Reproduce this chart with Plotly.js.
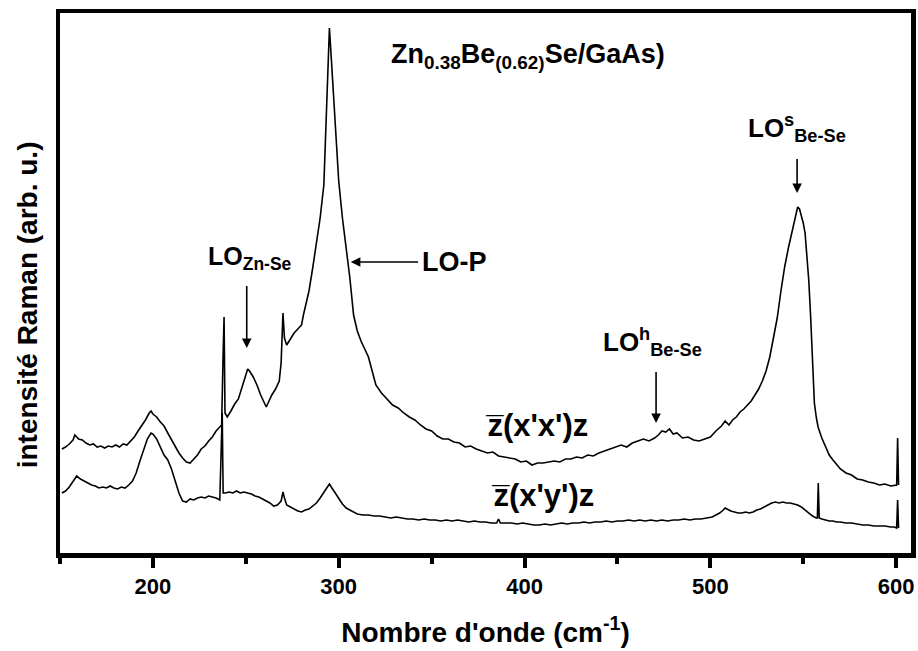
<!DOCTYPE html>
<html>
<head>
<meta charset="utf-8">
<script src="https://cdn.plot.ly/plotly-3.0.1.min.js"></script>
<style>html,body{margin:0;padding:0;background:#fff;}#chart{width:918px;height:651px;}</style>
</head>
<body>
<div id="chart"></div>
<script>
// Polarisation z(x'x')z spectrum
const wavenumber_xx = [151,153,155,157,158,160,162,164,166,168,170,172,174,176,178,180,182,184,186,188,190,192,194,196,198,199,200,202,204,206,208,210,212,214,216,218,220,222,224,226,228,230,232,234,236,237,237.8,238.3,238.8,240,242,244,246,248,250,251,252,254,256,258,260,261,262,264,266,268,269,270,270.8,272,274,276,278,280,281,282,284,286,288,290,292,293,294,295,296,297,298,300,302,304,306,308,310,312,314,316,318,320,323,326,329,332,335,338,341,344,347,350,353,356,359,362,365,368,371,374,377,380,383,386,389,392,395,398,401,404,407,410,413,416,419,422,425,428,431,434,437,440,443,446,449,452,455,458,461,464,467,470,472,474,476,478,480,482,485,488,491,494,497,500,503,506,508,510,512,514,516,518,520,522,524,526,528,530,532,534,536,538,540,542,544,546,547,548,549,550,551,552,553,554,555,556,557,558,560,562,564,566,568,570,573,576,579,582,585,588,591,594,597,599,600.3,600.8,601.3];
const intensity_xx = [104,106,109,113,118,114,113,110,108,109,106,107,105,107,106,108,106,109,108,112,116,122,127,133,140,142,139,136,131,127,120,113,106,100,95,91,90,94,98,104,107,112,116,122,126,128,200,236,140,136,142,149,154,165,178,184,182,176,168,158,150,146,150,158,164,172,190,240,215,208,214,220,224,228,238,246,262,285,308,335,368,420,475,525,495,465,435,372,335,305,275,238,222,212,204,196,182,168,160,154,148,145,140,136,133,128,124,122,117,114,114,111,110,106,107,104,102,100,101,97,96,95,94,91,92,88,90,90,91,92,91,94,94,96,95,98,97,100,102,104,106,108,106,110,112,114,112,115,118,122,121,124,119,120,115,116,113,112,114,116,122,127,132,128,133,136,141,144,148,152,158,164,172,182,196,215,235,262,286,305,322,338,346,344,338,330,320,300,272,236,190,150,136,126,115,107,98,93,88,84,80,78,74,73,71,70,68,69,67,68,68,115,68];

// Polarisation z(x'y')z spectrum
const wavenumber_xy = [151,153,155,157,159,161,163,165,167,169,171,173,175,177,179,181,183,185,187,189,191,193,195,197,199,200,202,204,206,208,210,212,214,216,218,220,222,224,226,228,230,232,234,236,236.8,237.3,237.8,239,241,243,245,247,249,251,253,255,257,259,261,263,265,267,269,270,270.8,272,274,276,278,280,282,284,286,288,290,292,294,295,296,298,300,302,304,306,308,310,313,316,319,322,325,328,331,334,337,340,343,346,349,352,355,358,361,364,367,370,373,376,379,382,385,386,387,390,393,396,399,402,405,408,411,414,417,420,423,426,429,432,435,438,441,444,447,450,453,456,459,462,465,468,471,474,477,480,483,486,489,492,495,498,501,503,505,507,508,509,511,513,515,517,519,521,523,525,527,529,531,533,535,537,539,541,543,545,547,549,551,553,555,557,557.6,558.1,558.6,560,562,564,566,568,570,573,576,579,582,585,588,591,594,597,599,600.3,600.8,601.3];
const intensity_xy = [60,62,66,72,77,74,72,70,68,67,65,66,65,67,65,64,66,65,68,72,80,92,104,114,120,119,114,106,98,93,84,72,60,52,51,54,53,55,56,55,57,56,55,53,95,140,60,60,61,60,62,60,61,60,59,57,56,54,52,50,47,48,52,61,55,48,46,44,42,41,43,44,47,50,55,61,67,69,66,60,55,49,45,43,41,39,38,38,37,37,36,35,36,35,34,34,33,34,33,33,32,33,32,33,32,31,32,31,31,30,30,34,30,30,30,29,30,29,28,28,29,28,29,30,29,30,30,31,30,31,31,32,31,32,32,33,32,33,32,33,32,33,32,33,33,34,33,34,34,35,36,38,40,43,45,44,42,41,40,40,41,40,41,43,44,46,48,50,51,50,51,50,50,49,48,46,43,40,37,35,35,70,35,34,33,32,32,31,31,30,30,29,28,28,27,27,27,26,26,25,53,25];

const xTickVals = [200,300,400,500,600];
const xTickText = ['200','300','400','500','600'];

const FONT = 'Liberation Sans, Arial, Helvetica, sans-serif';
const lineStyle = {color:'#000', width:1.6};

const traces = [
  {x: wavenumber_xx, y: intensity_xx, mode:'lines', line: lineStyle, name:"z(x'x')z", hoverinfo:'x+y'},
  {x: wavenumber_xy, y: intensity_xy, mode:'lines', line: lineStyle, name:"z(x'y')z", hoverinfo:'x+y'}
];

function txt(x, y, text, size) {
  return {x:x, y:y, xref:'x', yref:'y', text:'<b>'+text+'</b>', showarrow:false,
    font:{family:FONT, size:size, color:'#000'}, xanchor:'center', yanchor:'middle'};
}
function arrow(x, y, ax, ay) {
  return {x:x, y:y, ax:ax, ay:ay, xref:'x', yref:'y', axref:'x', ayref:'y', text:' ', showarrow:true,
    arrowhead:2, arrowsize:1.2, arrowwidth:1.6, arrowcolor:'#000', font:{size:4}};
}

const annotations = [
  txt(402, 497, 'Zn<sub>0.38</sub>Be<sub>(0.62)</sub>Se/GaAs)', 27),
  txt(252.5, 295, 'LO<sub>Zn-Se</sub>', 25),
  arrow(250.5, 205, 250.5, 271),
  arrow(306.5, 291, 343.8, 291),
  txt(362.5, 291, 'LO-P', 27),
  txt(546.5, 425, 'LO<sup>s</sup><sub>Be-Se</sub>', 26),
  arrow(546.7, 360, 546.7, 398),
  txt(469, 211, 'LO<sup>h</sup><sub>Be-Se</sub>', 26),
  arrow(470.8, 130, 470.8, 185),
  txt(406.5, 128, "z\u0305(x'x')z", 31),
  txt(409.5, 58, "z\u0305(x'y')z", 31),
  {xref:'paper', yref:'paper', x:-0.038, y:0.46, text:'<b>intensité Raman (arb. u.)</b>', textangle:-90,
   showarrow:false, font:{family:FONT, size:28, color:'#000'}, xanchor:'center', yanchor:'middle'}
];

const layout = {
  width:918, height:651,
  margin:{l:60, r:7, t:13, b:98},
  paper_bgcolor:'#fff', plot_bgcolor:'#fff',
  showlegend:false,
  xaxis:{
    range:[150,608], showgrid:false, zeroline:false,
    showline:true, linecolor:'#000', linewidth:4.5, mirror:true,
    ticks:'outside', ticklen:10, tickwidth:4, tickcolor:'#000',
    tickvals:xTickVals, ticktext:xTickText,
    tickfont:{family:FONT, size:22, color:'#000', weight:'bold'},
    minor:{dtick:50, tick0:0, ticks:'outside', ticklen:6, tickwidth:4, tickcolor:'#000', showgrid:false},
    title:{text:"<b>Nombre d'onde (cm<sup>-1</sup>)</b>", font:{family:FONT, size:28, color:'#000'}, standoff:26}
  },
  yaxis:{
    range:[0,540], showgrid:false, zeroline:false,
    showline:true, linecolor:'#000', linewidth:4.5, mirror:true,
    ticks:'', showticklabels:false
  },
  annotations: annotations
};

Plotly.newPlot('chart', traces, layout, {displayModeBar:false, staticPlot:true});
</script>
</body>
</html>
